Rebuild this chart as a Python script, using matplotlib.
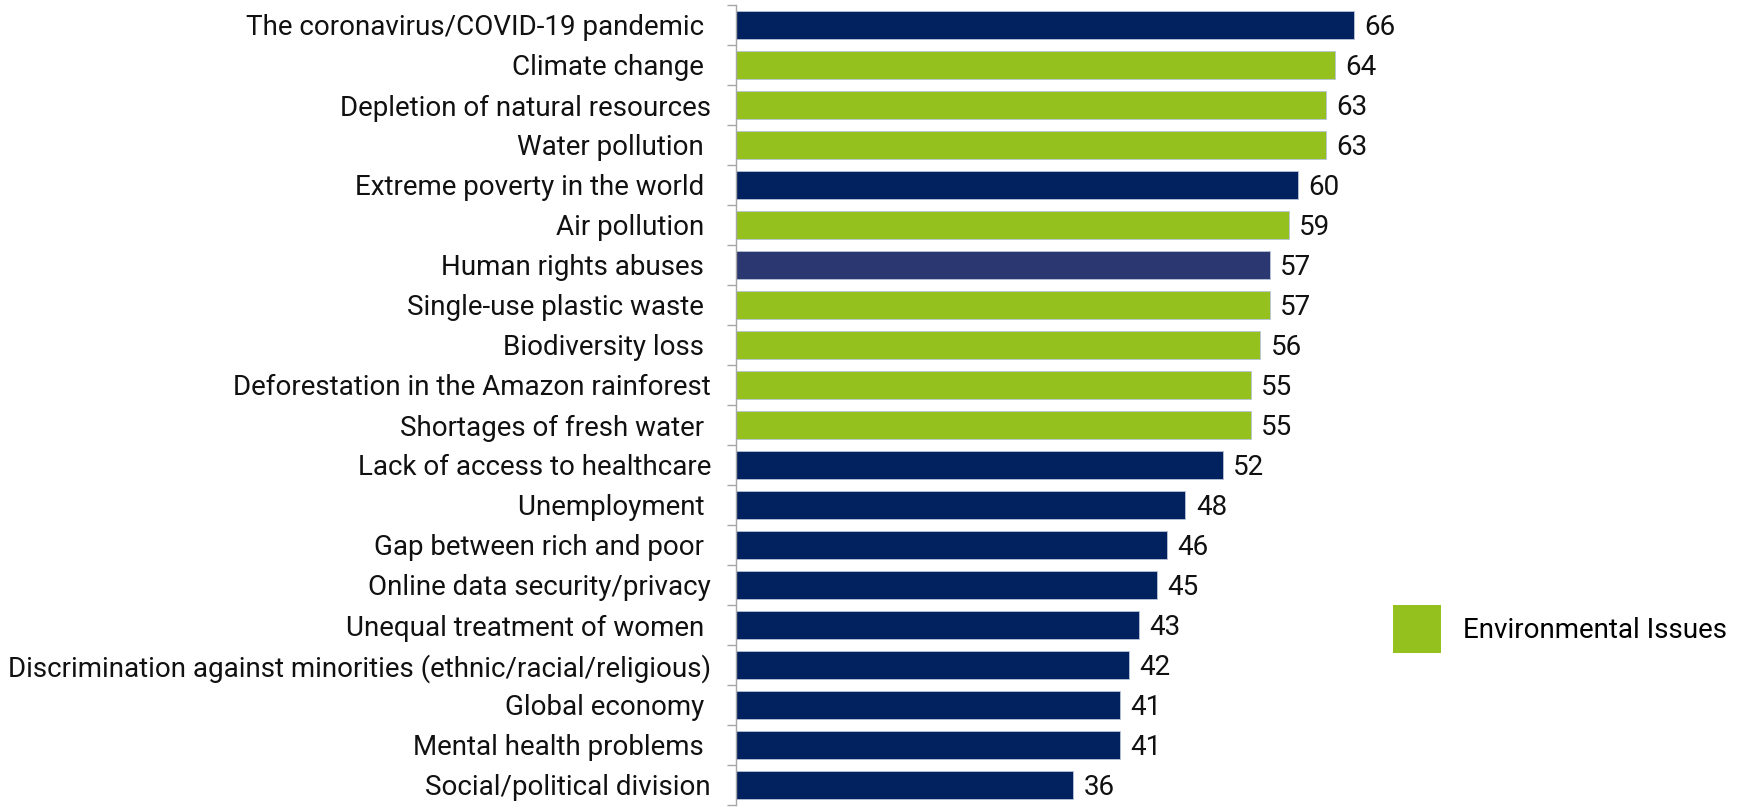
import numpy as np
import matplotlib.pyplot as plt
from matplotlib.patches import Patch

plt.rcParams['font.family'] = ['Roboto', 'DejaVu Sans']

# Share of respondents concerned about each issue (%)
issues = [
    'The coronavirus/COVID-19 pandemic ',
    'Climate change ',
    'Depletion of natural resources',
    'Water pollution ',
    'Extreme poverty in the world ',
    'Air pollution ',
    'Human rights abuses ',
    'Single-use plastic waste ',
    'Biodiversity loss ',
    'Deforestation in the Amazon rainforest',
    'Shortages of fresh water ',
    'Lack of access to healthcare',
    'Unemployment ',
    'Gap between rich and poor ',
    'Online data security/privacy',
    'Unequal treatment of women ',
    'Discrimination against minorities (ethnic/racial/religious)',
    'Global economy ',
    'Mental health problems ',
    'Social/political division',
]
values = [66, 64, 63, 63, 60, 59, 57, 57, 56, 55, 55, 52, 48, 46, 45, 43, 42, 41, 41, 36]
environmental = [False, True, True, True, False, True, False, True, True, True, True,
                 False, False, False, False, False, False, False, False, False]

navy = '#02215F'
green = '#95C11F'
colors = [green if env else navy for env in environmental]
colors[6] = '#2B3770'

fs = 20

fig = plt.figure(figsize=(17.38, 8.11), dpi=100)
ax = fig.add_axes([736 / 1738, 6 / 811, 1 - 736 / 1738, 800 / 811])

y = np.arange(len(issues))
bars = ax.barh(y, values, height=0.7, color=colors, edgecolor='#B8C4D8', linewidth=0.6)

for yi, v in zip(y, values):
    ax.text(v + 1.1, yi, str(v), va='center_baseline', ha='left', fontsize=fs, color='#111111')

ax.set_xlim(0, 107)
ax.set_ylim(len(issues) - 0.5, -0.5)
ax.set_yticks(y)
ax.set_yticklabels(issues, fontsize=fs, color='#111111', va='center_baseline')
ax.tick_params(axis='y', which='major', length=0, pad=18)
ax.set_yticks(np.arange(-0.5, len(issues)), minor=True)
ax.tick_params(axis='y', which='minor', length=6.5, color='#A6A6A6', width=1)
ax.set_xticks([])

for side in ['top', 'right', 'bottom']:
    ax.spines[side].set_visible(False)
ax.spines['left'].set_color('#A6A6A6')
ax.spines['left'].set_linewidth(1)

handle = Patch(facecolor=green, edgecolor='none', label='Environmental Issues')
fig.legend(handles=[handle], loc='center left', bbox_to_anchor=(1368 / 1738, 1 - 629 / 811),
           frameon=False, fontsize=fs, handlelength=1.73, handleheight=2.3, handletextpad=0.8)

fig.savefig('out.png', dpi=100)
